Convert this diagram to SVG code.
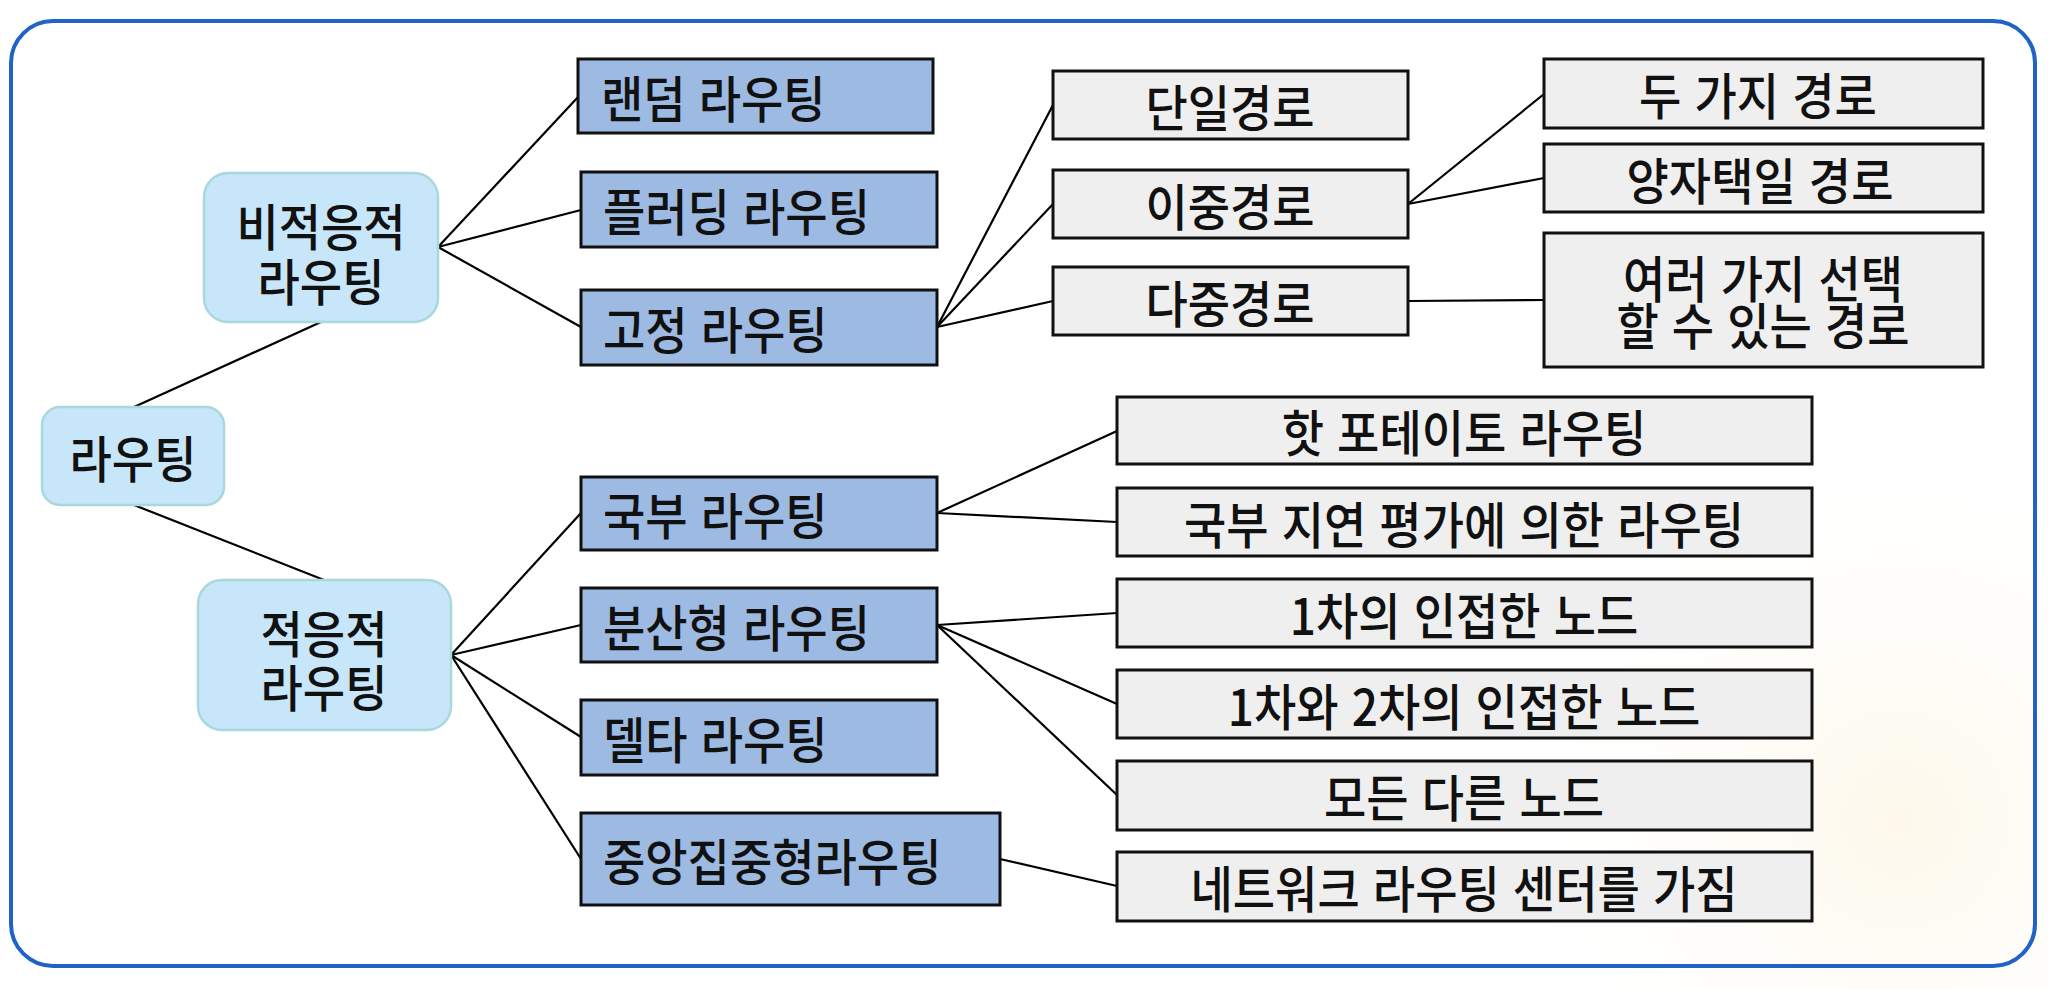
<svg xmlns="http://www.w3.org/2000/svg" width="2048" height="989" viewBox="0 0 2048 989">
<defs>
<radialGradient id="warm" cx="1900" cy="820" r="420" gradientUnits="userSpaceOnUse">
<stop offset="0" stop-color="#fdf8ea" stop-opacity="1"/>
<stop offset="1" stop-color="#ffffff" stop-opacity="0"/>
</radialGradient>
<style>
.t{font-family:"Noto Sans CJK KR","Noto Sans CJK SC",sans-serif;font-size:50px;font-weight:500;fill:#111;dominant-baseline:central;word-spacing:3px}
.c{text-anchor:middle}
.root{fill:#c8e6fa;stroke:#a8d8dc;stroke-width:2.5}
.blue{fill:#9dbae3;stroke:#111;stroke-width:3}
.gray{fill:#efefef;stroke:#111;stroke-width:3}
.ln{stroke:#000;stroke-width:2.2;fill:none}
</style>
</defs>
<rect x="0" y="0" width="2048" height="989" fill="#ffffff"/>
<rect x="1400" y="500" width="648" height="489" fill="url(#warm)"/>
<rect x="11" y="21" width="2024" height="945" rx="42" ry="42" fill="none" stroke="#2162c6" stroke-width="4"/>

<g id="connectors">
<line class="ln" x1="134" y1="407" x2="321" y2="322"/>
<line class="ln" x1="134" y1="505" x2="324" y2="580"/>
<line class="ln" x1="438" y1="247" x2="579" y2="96"/>
<line class="ln" x1="438" y1="247" x2="581" y2="210"/>
<line class="ln" x1="438" y1="247" x2="581" y2="327"/>
<line class="ln" x1="937" y1="327" x2="1053" y2="105"/>
<line class="ln" x1="937" y1="327" x2="1053" y2="204"/>
<line class="ln" x1="937" y1="327" x2="1053" y2="301"/>
<line class="ln" x1="1408" y1="204" x2="1544" y2="94"/>
<line class="ln" x1="1408" y1="204" x2="1544" y2="178"/>
<line class="ln" x1="1408" y1="301" x2="1544" y2="300"/>
<line class="ln" x1="451" y1="655" x2="581" y2="513"/>
<line class="ln" x1="451" y1="655" x2="581" y2="625"/>
<line class="ln" x1="451" y1="655" x2="581" y2="737"/>
<line class="ln" x1="451" y1="655" x2="581" y2="859"/>
<line class="ln" x1="937" y1="513" x2="1117" y2="431"/>
<line class="ln" x1="937" y1="513" x2="1117" y2="522"/>
<line class="ln" x1="937" y1="625" x2="1117" y2="613"/>
<line class="ln" x1="937" y1="625" x2="1117" y2="704"/>
<line class="ln" x1="937" y1="625" x2="1117" y2="795"/>
<line class="ln" x1="1000" y1="859" x2="1117" y2="886"/>
</g>

<g id="n-routing"><rect class="root" x="42" y="407" width="182" height="98" rx="18"/><text class="t c" transform="translate(133,456) scale(0.92,1)">라우팅</text></g>
<g id="n-nonadaptive"><rect class="root" x="204" y="173" width="234" height="149" rx="24"/><text class="t c" transform="translate(321,224) scale(0.92,1)">비적응적</text><text class="t c" transform="translate(321,279) scale(0.92,1)">라우팅</text></g>
<g id="n-adaptive"><rect class="root" x="198" y="580" width="253" height="150" rx="24"/><text class="t c" transform="translate(324,631) scale(0.92,1)">적응적</text><text class="t c" transform="translate(324,685) scale(0.92,1)">라우팅</text></g>

<g id="n-random"><rect class="blue" x="578" y="59" width="355" height="74"/><text class="t" transform="translate(601,96) scale(0.92,1)">랜덤 라우팅</text></g>
<g id="n-flooding"><rect class="blue" x="581" y="172" width="356" height="75"/><text class="t" transform="translate(603,209) scale(0.92,1)">플러딩 라우팅</text></g>
<g id="n-fixed"><rect class="blue" x="581" y="290" width="356" height="75"/><text class="t" transform="translate(603,327) scale(0.92,1)">고정 라우팅</text></g>
<g id="n-local"><rect class="blue" x="581" y="477" width="356" height="73"/><text class="t" transform="translate(603,513) scale(0.92,1)">국부 라우팅</text></g>
<g id="n-distributed"><rect class="blue" x="581" y="588" width="356" height="74"/><text class="t" transform="translate(603,625) scale(0.92,1)">분산형 라우팅</text></g>
<g id="n-delta"><rect class="blue" x="581" y="700" width="356" height="75"/><text class="t" transform="translate(603,737) scale(0.92,1)">델타 라우팅</text></g>
<g id="n-central"><rect class="blue" x="581" y="813" width="419" height="92"/><text class="t" transform="translate(603,859) scale(0.92,1)">중앙집중형라우팅</text></g>

<g id="n-single"><rect class="gray" x="1053" y="71" width="355" height="68"/><text class="t c" transform="translate(1230,105) scale(0.92,1)">단일경로</text></g>
<g id="n-dual"><rect class="gray" x="1053" y="170" width="355" height="68"/><text class="t c" transform="translate(1230,204) scale(0.92,1)">이중경로</text></g>
<g id="n-multi"><rect class="gray" x="1053" y="267" width="355" height="68"/><text class="t c" transform="translate(1230,301) scale(0.92,1)">다중경로</text></g>
<g id="n-two"><rect class="gray" x="1544" y="59" width="439" height="69"/><text class="t c" transform="translate(1758,93) scale(0.92,1)">두 가지 경로</text></g>
<g id="n-either"><rect class="gray" x="1544" y="144" width="439" height="68"/><text class="t c" transform="translate(1760,178) scale(0.92,1)">양자택일 경로</text></g>
<g id="n-several"><rect class="gray" x="1544" y="233" width="439" height="134"/><text class="t c" transform="translate(1763,276) scale(0.92,1)">여러 가지 선택</text><text class="t c" transform="translate(1763,323) scale(0.92,1)">할 수 있는 경로</text></g>

<g id="n-hotpotato"><rect class="gray" x="1117" y="397" width="695" height="67"/><text class="t c" transform="translate(1464,430) scale(0.92,1)">핫 포테이토 라우팅</text></g>
<g id="n-localdelay"><rect class="gray" x="1117" y="488" width="695" height="68"/><text class="t c" transform="translate(1464,522) scale(0.92,1)">국부 지연 평가에 의한 라우팅</text></g>
<g id="n-first"><rect class="gray" x="1117" y="579" width="695" height="68"/><text class="t c" transform="translate(1464,613) scale(0.92,1)">1차의 인접한 노드</text></g>
<g id="n-firstsecond"><rect class="gray" x="1117" y="670" width="695" height="68"/><text class="t c" transform="translate(1464,704) scale(0.92,1)">1차와 2차의 인접한 노드</text></g>
<g id="n-all"><rect class="gray" x="1117" y="761" width="695" height="69"/><text class="t c" transform="translate(1464,795) scale(0.92,1)">모든 다른 노드</text></g>
<g id="n-center"><rect class="gray" x="1117" y="852" width="695" height="69"/><text class="t c" transform="translate(1464,886) scale(0.92,1)">네트워크 라우팅 센터를 가짐</text></g>
</svg>
